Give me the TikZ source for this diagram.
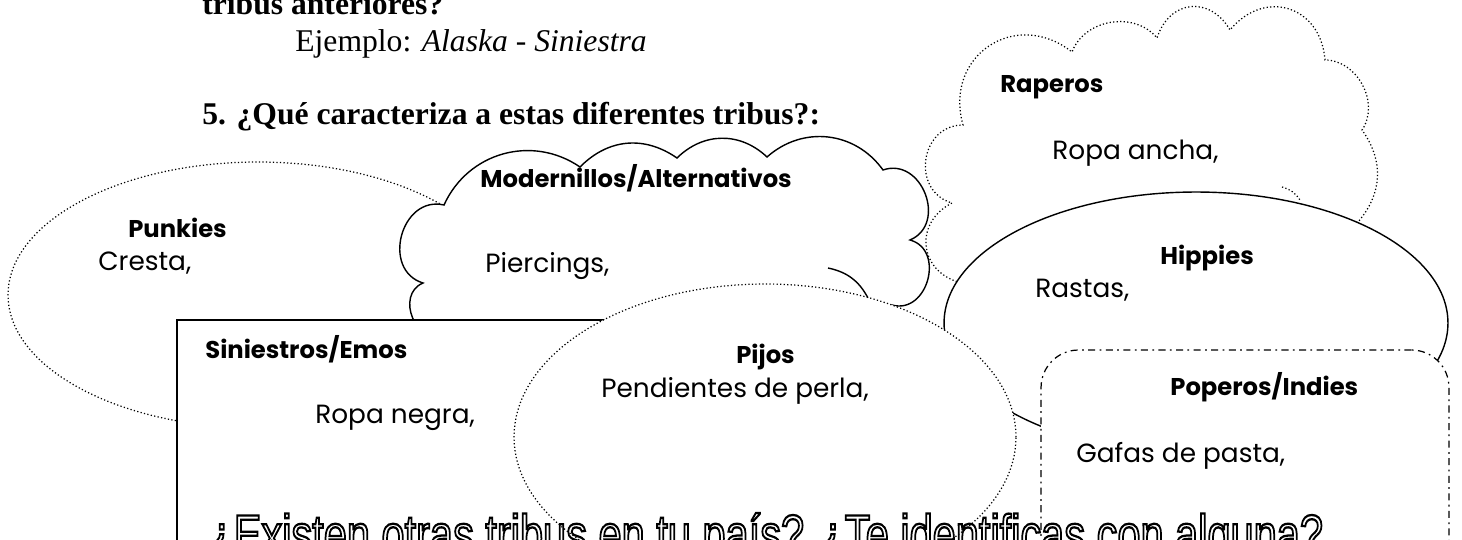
\documentclass[tikz,border=0pt]{standalone}
\usepackage{fontspec}
\setmainfont{Liberation Serif}
\newfontfamily\gothic{Poppins}
\newfontfamily\handfont{Liberation Sans}
\usepackage{graphicx}
\usetikzlibrary{shapes.geometric}

\tikzset{
 solidline/.style={draw, line width=0.8pt},
 dotline/.style={draw, line width=0.7pt, dash pattern=on 0.7pt off 1.3pt},
 dashdotline/.style={draw, line width=0.7pt, dash pattern=on 4pt off 2.5pt on 1pt off 2.5pt},
 tribe/.style={anchor=base west, inner sep=0pt, font=\gothic\bfseries\fontsize{13.8}{16}\selectfont},
 trait/.style={anchor=base west, inner sep=0pt, font=\gothic\fontsize{15}{17}\selectfont},
 heading/.style={anchor=base west, inner sep=0pt, font=\fontsize{18}{20}\selectfont},
 lobe/.style={bend left=#1, looseness=1.05},
 puff/.style={bend left=#1, looseness=1.4},
}

\begin{document}
\begin{tikzpicture}[x=0.02cm, y=-0.02cm]
 \useasboundingbox (0,0) rectangle (1462,540);
 \clip (0,0) rectangle (1462,540);

 % worksheet text
 \node[heading, font=\bfseries\fontsize{18}{20}\selectfont] (prevq) at (202,15) {tribus anteriores?};
 \node[heading] (example) at (295,52) {Ejemplo: \textit{Alaska - Siniestra}};
 \node[heading, font=\bfseries\fontsize{18}{20}\selectfont] (question) at (202,125)
 {5. ¿Qué caracteriza a estas diferentes tribus?:};

 % shapes, back to front
 \node[ellipse, dotline, fill=white, inner sep=0pt,
 minimum width=10cm, minimum height=5.32cm] (punkies) at (258,295) {};

 \draw[dotline, fill=white] (1010,300) -- (962,283) to[puff=70] (952,203)
 to[puff=82] (963,125) to[puff=72] (1072,52) to[lobe=60] (1157,38)
 to[puff=66] (1230,30) to[puff=68] (1325,60) to[lobe=62] (1362,130)
 to[lobe=38] (1358,222) -- (1200,260) -- cycle;
 \draw[dotline] (1282,187) to[bend left=20] (1300,200);

 \draw[solidline, fill=white] (445,335) to[puff=90] (423,283) to[puff=88] (444,205)
 to[lobe=50] (580,167) to[lobe=40] (677,158) to[lobe=44] (767,157)
 to[lobe=48] (883,170) to[puff=88] (910,240) to[puff=90] (892,305)
 -- (700,380) -- cycle;
 \draw[solidline] (828,268) to[bend left=25] (868,298);

 \node[ellipse, solidline, fill=white, inner sep=0pt,
 minimum width=10.08cm, minimum height=5.24cm] (hippies) at (1196,323) {};

 \node[rectangle, solidline, fill=white, inner sep=0pt,
 minimum width=14.46cm, minimum height=6cm] (siniestros) at (538.5,470) {};

 \node[ellipse, dotline, fill=white, inner sep=0pt,
 minimum width=10.04cm, minimum height=6.12cm] (pijos) at (765,437) {};

 \node[rectangle, rounded corners=0.75cm, dashdotline, fill=white, inner sep=0pt,
 minimum width=8.16cm, minimum height=5.8cm] (poperos) at (1245,495) {};

 % labels
 \node[tribe] (punkieslab) at (128,238) {Punkies};
 \node[trait] (punkiestr) at (98,271) {Cresta,};
 \node[tribe] (modernlab) at (480,188) {Modernillos/Alternativos};
 \node[trait] (moderntr) at (485,273) {Piercings,};
 \node[tribe] (raperoslab) at (1000,93) {Raperos};
 \node[trait] (raperostr) at (1052,160) {Ropa ancha,};
 \node[tribe] (hippieslab) at (1160,265) {Hippies};
 \node[trait] (hippiestr) at (1035,297) {Rastas,};
 \node[tribe] (siniestroslab) at (205,358) {Siniestros/Emos};
 \node[trait] (siniestrostr) at (315,423) {Ropa negra,};
 \node[tribe] (pijoslab) at (736,363) {Pijos};
 \node[trait] (pijostr) at (601,397) {Pendientes de perla,};
 \node[tribe] (poueroslab) at (1170,395) {Poperos/Indies};
 \node[trait] (poperostr) at (1076,462) {Gafas de pasta,};

 % closing question, outlined letters
 \node[anchor=base west, inner sep=0pt] (closing) at (208,553)
 {\resizebox{22.3cm}{\height}{\handfont\fontsize{31}{34}\selectfont
 \special{pdf:literal direct 1 Tr 1.3 w}¿Existen otras tribus en tu país? ¿Te identificas con alguna?\special{pdf:literal direct 0 Tr}}};
\end{tikzpicture}
\end{document}
